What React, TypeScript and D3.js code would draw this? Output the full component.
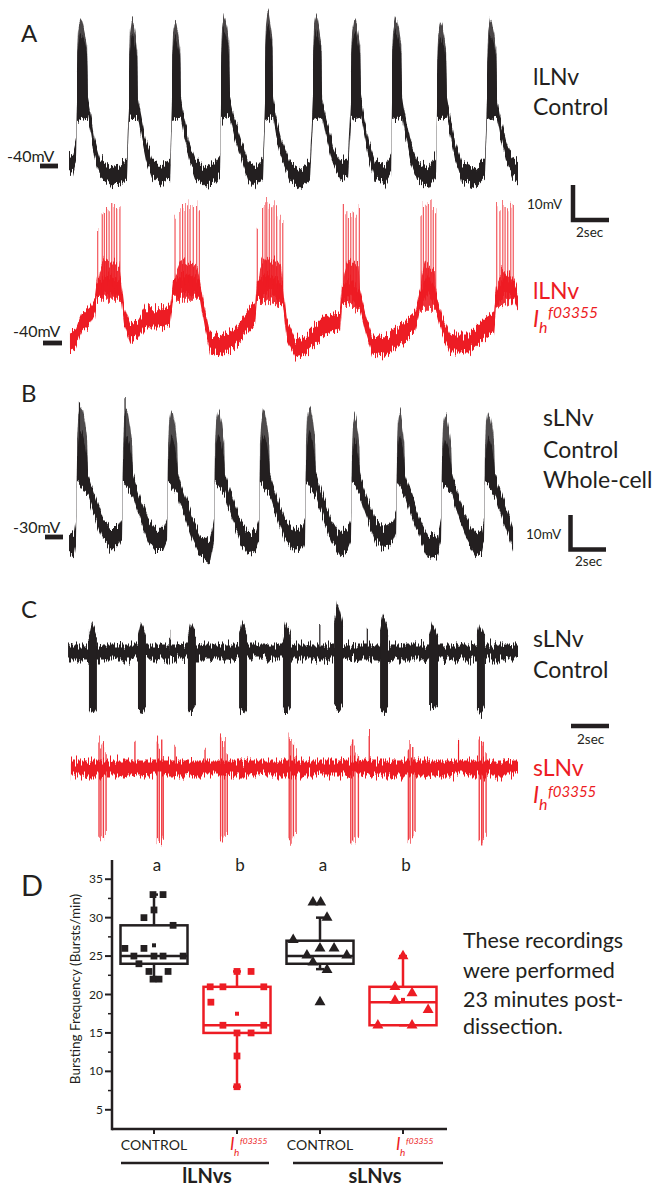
import React from 'react';
import * as d3 from 'd3';

type P = [number, number];
type Burst = [number, number, number];

// ---------------- Panel A: lLNv Control (time s, membrane potential mV) ----------------
const A_CTRL_LINE: P[] = [
  [0, -39.7], [0.21, -39.2], [0.37, -35.7], [0.42, -24.9], [0.68, -22.2], [1.0, -24.3], [1.16, -28.9], [1.37, -35.7], [1.63, -40.5], [2.16, -42.7], [2.68, -42.2], [3.05, -40.5],
  [3.16, -24.9], [3.37, -22.2], [3.63, -24.3], [3.79, -28.9], [4.05, -35.7], [4.37, -40.5], [4.79, -42.7], [5.32, -41.1],
  [5.42, -24.9], [5.63, -22.2], [5.89, -24.3], [6.05, -28.9], [6.32, -35.7], [6.63, -40.5], [7.16, -43.2], [7.68, -41.6], [7.95, -39.7],
  [8.0, -24.9], [8.21, -21.6], [8.47, -24.3], [8.68, -28.9], [9.0, -34.3], [9.42, -41.1], [9.79, -43.2], [10.21, -40.5],
  [10.32, -24.9], [10.47, -21.6], [10.74, -24.3], [10.89, -28.9], [11.21, -35.7], [11.63, -41.6], [12.16, -43.2], [12.68, -41.6],
  [12.84, -24.9], [13.05, -21.6], [13.32, -24.3], [13.53, -29.7], [13.89, -37.0], [14.26, -41.1], [14.68, -40.5],
  [14.84, -24.9], [15.05, -21.6], [15.37, -24.3], [15.53, -28.9], [15.79, -35.7], [16.11, -41.1], [16.63, -42.4], [16.95, -39.7],
  [17.0, -24.9], [17.21, -21.6], [17.53, -24.3], [17.68, -28.9], [17.95, -35.7], [18.32, -41.1], [18.89, -42.7], [19.32, -39.7],
  [19.37, -24.9], [19.58, -21.6], [19.89, -24.3], [20.05, -28.9], [20.32, -35.7], [20.68, -41.6], [21.37, -43.2], [21.89, -40.5],
  [22.0, -24.9], [22.21, -21.6], [22.53, -24.3], [22.68, -28.9], [23.0, -35.7], [23.32, -40.5], [23.63, -41.6],
];
// [burst onset s, burst offset s, spike top mV]
const A_CTRL_BURSTS: Burst[] = [
  [0.42, 1.0, 0.0], [3.16, 3.63, -0.5], [5.42, 5.89, -1.1], [8.0, 8.47, 0.8], [10.32, 10.74, 2.2],
  [12.84, 13.32, 0.5], [14.84, 15.37, 0.0], [17.0, 17.53, 0.5], [19.37, 19.89, -1.1], [22.0, 22.53, -0.5],
];

// ---------------- Panel A: lLNv Ih f03355 ----------------
const A_IH_LINE: P[] = [
  [0.05, -39.2], [0.37, -38.6], [0.68, -34.3], [1.11, -32.4], [1.37, -29.7], [1.47, -25.7],
  [2.11, -24.3], [2.74, -25.7], [2.89, -32.4], [3.21, -37.3], [3.63, -36.5], [4.0, -33.2], [4.79, -33.2], [5.32, -32.4], [5.47, -25.7],
  [6.16, -23.8], [6.89, -25.7], [7.16, -33.8], [7.42, -40.0], [7.95, -40.5], [8.74, -38.4], [9.53, -33.2], [9.79, -32.4], [9.89, -25.7],
  [10.58, -23.8], [11.26, -27.0], [11.47, -36.5], [11.89, -41.4], [12.42, -40.5], [12.95, -37.8], [13.47, -35.1], [14.26, -34.3], [14.37, -27.0],
  [14.84, -25.1], [15.32, -28.4], [15.63, -35.1], [15.95, -40.5], [16.63, -41.1], [17.42, -37.8], [18.21, -34.3], [18.47, -28.4],
  [18.89, -24.3], [19.32, -28.4], [19.63, -35.1], [20.05, -40.0], [21.1, -40.0], [21.89, -35.9], [22.37, -34.3], [22.47, -28.4],
  [22.95, -24.3], [23.42, -25.7], [23.63, -28.4],
];
// [onset, offset, top of the dense part mV]
const A_IH_BURSTS: Burst[] = [
  [1.47, 2.74, -17.0], [5.47, 6.89, -17.6], [9.89, 11.26, -17.0], [14.37, 15.32, -17.6], [18.47, 19.32, -18.1], [22.47, 23.42, -20.3],
];
// [spike time s, spike peak mV]
const A_IH_SPIKES: P[] = [
  [1.51, -9.2], [1.75, -4.1], [1.86, -4.6], [1.98, -3.5], [2.11, -4.1], [2.25, -2.7], [2.38, -2.7], [2.51, -3.5], [2.68, -2.2],
  [5.58, -5.9], [5.84, -4.1], [5.98, -3.5], [6.11, -2.7], [6.25, -2.2], [6.37, -3.5], [6.54, -2.7], [6.72, -2.2], [6.86, -4.1],
  [9.91, -8.6], [10.19, -3.5], [10.32, -2.2], [10.41, -0.8], [10.54, -3.2], [10.67, -4.1], [10.79, -2.2], [10.93, -4.1], [11.11, -5.9], [11.25, -7.3],
  [14.44, -2.7], [14.58, -4.9], [14.7, -4.6], [14.83, -5.4], [14.96, -4.9], [15.11, -5.9], [15.28, -2.7],
  [18.53, -4.1], [18.65, -2.7], [18.79, -3.2], [18.91, -2.7], [19.05, -1.4], [19.17, -3.5], [19.3, -4.1],
  [22.51, -2.2], [22.68, -4.1], [22.83, -2.7], [22.95, -2.7], [23.09, -4.1], [23.25, -3.2], [23.38, -2.7],
];

// ---------------- Panel B: sLNv Control whole-cell ----------------
const B_LINE: P[] = [
  [0, -31.6], [0.26, -32.2], [0.37, -28.1], [0.42, -11.9], [0.68, -12.4], [1.0, -15.9], [1.16, -18.6], [1.42, -22.7], [1.79, -28.1], [2.16, -30.3], [2.58, -30.3], [2.79, -28.1],
  [2.84, -11.9], [3.11, -12.4], [3.37, -15.9], [3.53, -18.6], [3.79, -22.7], [4.16, -28.1], [4.53, -30.8], [4.95, -30.8], [5.16, -28.1],
  [5.21, -11.9], [5.47, -12.4], [5.74, -15.9], [5.89, -18.6], [6.16, -22.7], [6.53, -28.1], [6.89, -32.2], [7.42, -34.1], [7.63, -28.1],
  [7.68, -11.9], [7.95, -12.4], [8.21, -15.9], [8.37, -18.6], [8.63, -22.7], [9.0, -28.1], [9.42, -31.4], [9.84, -30.8], [10.0, -28.1],
  [10.05, -11.9], [10.32, -12.4], [10.58, -15.9], [10.74, -18.6], [11.0, -22.7], [11.37, -28.1], [11.79, -30.8], [12.26, -30.3], [12.42, -28.1],
  [12.47, -11.9], [12.74, -11.9], [13.0, -15.9], [13.16, -18.6], [13.42, -22.7], [13.79, -28.1], [14.26, -32.2], [14.68, -30.3], [14.84, -28.1],
  [14.89, -11.9], [15.11, -12.4], [15.32, -15.9], [15.47, -18.6], [15.74, -22.7], [16.11, -28.1], [16.53, -30.3], [17.05, -28.9], [17.21, -26.8],
  [17.26, -11.9], [17.47, -12.4], [17.68, -15.9], [17.84, -18.6], [18.11, -22.7], [18.47, -28.1], [18.89, -32.7], [19.42, -32.2], [19.58, -28.1],
  [19.63, -11.9], [19.89, -12.4], [20.16, -15.9], [20.32, -18.6], [20.58, -22.7], [20.95, -28.1], [21.37, -32.2], [21.74, -30.8], [21.84, -28.1],
  [21.89, -11.9], [22.16, -12.4], [22.42, -15.9], [22.58, -18.6], [22.84, -22.7], [23.21, -28.1], [23.37, -30.8],
];
const B_BURSTS: Burst[] = [
  [0.42, 1.0, 5.7], [2.84, 3.37, 4.3], [5.21, 5.74, 4.3], [7.68, 8.21, 4.9], [10.05, 10.58, 4.9],
  [12.47, 13.0, 5.5], [14.89, 15.32, 3.5], [17.26, 17.68, 4.3], [19.63, 20.16, 3.5], [21.89, 22.42, 4.3],
];
const B_TALL_SPIKES: P[] = [[2.95, 7.8], [0.55, 6.4]];

// ---------------- Panel C: extracellular sLNv (time s, relative amplitude) ----------------
const C_CTRL_SPAN: [number, number] = [-0.05, 23.63];
// [onset, offset, downward peak, upward peak]
const C_CTRL_BURSTS: [number, number, number, number][] = [
  [1.05, 1.47, -16.5, 7.8], [3.63, 4.05, -16.5, 8.1], [6.26, 6.68, -16.5, 7.8], [8.95, 9.37, -16.5, 8.6], [11.26, 11.68, -16.5, 7.8],
  [13.95, 14.42, -15.7, 13.5], [16.37, 16.79, -16.5, 9.7], [18.95, 19.42, -15.1, 7.8], [21.47, 21.89, -16.5, 7.8],
];
const C_CTRL_NOISE_SPIKES: P[] = [[13.2, 7.3], [15.7, 6.0], [5.3, 5.2]];
const C_IH_SPAN: [number, number] = [0.1, 23.63];
// [spike time, downward peak, upward peak]
const C_IH_SPIKES: [number, number, number][] = [
  [1.58, -18.6, 8.0], [1.68, -19.5, 5.0], [1.81, -18.9, 7.0], [1.95, -17.6, 4.0],
  [4.65, -19.5, 8.5], [4.75, -20.0, 6.0], [4.88, -19.5, 8.0], [4.96, -18.6, 3.0],
  [7.98, -19.3, 8.0], [8.09, -19.3, 6.5], [8.21, -18.6, 7.5], [8.33, -17.6, 4.0],
  [11.59, -19.5, 8.5], [11.68, -19.9, 7.0], [11.81, -19.0, 6.0], [11.95, -17.6, 4.0],
  [14.83, -20.4, 6.0], [14.93, -19.9, 8.0], [15.05, -19.5, 5.0], [15.23, -18.6, 3.5],
  [17.86, -19.5, 5.0], [17.95, -19.9, 7.6], [18.09, -19.0, 6.5], [18.21, -17.6, 3.0],
  [21.59, -19.5, 8.5], [21.72, -20.4, 7.0], [21.8, -19.9, 6.0], [21.95, -18.6, 4.0],
];
const C_IH_NOISE_SPIKES: P[] = [[3.47, 6.8], [5.58, 6.0], [7.16, 6.3], [15.8, 8.9], [20.5, 7.6]];

// ---------------- Panel D: bursting frequency ----------------
const GROUP_KEYS = ['lLNv-control', 'lLNv-ih', 'sLNv-control', 'sLNv-ih'];
const GROUP_LETTERS = ['a', 'b', 'a', 'b'];
const BOX_MIN = [22, 8, 23.3, 16];
const BOX_Q1 = [24, 15, 24, 16];
const BOX_MED = [25, 16, 25, 19];
const BOX_Q3 = [29, 21, 27, 21];
const BOX_MAX = [33, 23, 30, 25];
const GROUP_MEAN = [26.4, 17.5, NaN, 19.3];
// [value, horizontal jitter as fraction of box half-width]
const PTS_LLNV_CTRL: P[] = [
  [33, -0.03], [33, 0.27], [31, 0], [30, -0.3], [29, 0.57], [26, -0.87], [26, -0.3], [25, -0.6], [25, 0], [25, 0.27], [25, 0.87],
  [24, -0.45], [23, -0.15], [23, 0.42], [22, -0.03], [22, 0.15],
];
const PTS_LLNV_IH: P[] = [
  [23, 0], [23, 0.42], [21, -0.8], [21, -0.42], [21, 0.8], [19, -0.78], [16, -0.42], [16, 0.8], [15, 0], [15, 0.42], [12, 0], [8, 0],
];
const PTS_SLNV_CTRL: P[] = [
  [32, -0.21], [32, 0.02], [30, 0.21], [27.1, -0.8], [26, 0], [26, 0.42], [25.1, -0.39], [25.1, 0.8], [24.2, -0.21], [23.2, 0.21], [19, 0],
];
const PTS_SLNV_IH: P[] = [
  [25, 0], [21, -0.24], [20.2, 0.27], [19.2, -0.24], [18, 0.75], [16, -0.75], [16, 0.27],
];
const GROUP_POINTS = [PTS_LLNV_CTRL, PTS_LLNV_IH, PTS_SLNV_CTRL, PTS_SLNV_IH];
const Y_TICKS = [5, 10, 15, 20, 25, 30, 35];
const Y_MINOR = [7.5, 12.5, 17.5, 22.5, 27.5, 32.5];

const W = 657;
const H = 1186;
const BLACK = '#231f20';
const RED = '#ed1c24';
const FONT = 'Lato, "Open Sans", sans-serif';

type Sc = d3.ScaleLinear<number, number>;

function interp(line: P[], t: number): number {
  const i = d3.bisector((d: P) => d[0]).left(line, t);
  if (i <= 0) return line[0][1];
  if (i >= line.length) return line[line.length - 1][1];
  const a = line[i - 1];
  const b = line[i];
  const f = (t - a[0]) / (b[0] - a[0] || 1);
  return a[1] + f * (b[1] - a[1]);
}

function bandPath(line: P[], x: Sc, y: Sc, hw: number): string {
  return (
    d3
      .area<P>()
      .x((d) => x(d[0]))
      .y0((d) => y(d[1] - hw))
      .y1((d) => y(d[1] + hw))(line) || ''
  );
}

function polyPath(pts: P[], x: Sc, y: Sc): string {
  return (d3.line<P>().x((p) => x(p[0])).y((p) => y(p[1]))(pts) || '') + 'Z';
}

// burst block: full spiky envelope (cut = 0) or its dense core (cut > 0)
function blockPath(line: P[], b: Burst, x: Sc, y: Sc, hw: number, drop: number, cut: number): string {
  const [on, off, top0] = b;
  const top = top0 - cut;
  const d = off - on;
  const pts: P[] = [
    [on, interp(line, on) - hw],
    [on, top - 10],
    [on + 0.12 * d, top - 3],
    [on + 0.3 * d, top],
    [on + 0.5 * d, top - 1],
    [on + 0.72 * d, top - drop * 0.5],
    [off - 0.08 * d, top - drop],
    [off, interp(line, off) + hw],
    [off, interp(line, off) - hw],
  ];
  return polyPath(pts, x, y);
}

export default function App() {
  const xT = d3.scaleLinear().domain([0, 23.63]).range([69, 518]);
  const yA = d3.scaleLinear().domain([-40, -30]).range([166, 129]);
  const yAi = d3.scaleLinear().domain([-40, -30]).range([343, 306]);
  const yB = d3.scaleLinear().domain([-30, -20]).range([537, 500]);
  const yCc = d3.scaleLinear().domain([0, 10]).range([652, 615]);
  const yCi = d3.scaleLinear().domain([0, 10]).range([768, 731]);

  const yD = d3.scaleLinear().domain([2.5, 37.5]).range([1129, 860]);
  const xD = d3.scalePoint<string>().domain(GROUP_KEYS).range([154, 403]);
  const BOX_HALF = 33.5;
  const groupColor = [BLACK, RED, BLACK, RED];
  const square = d3.symbol().type(d3.symbolSquare).size(46)() || '';
  const smallSquare = d3.symbol().type(d3.symbolSquare).size(16)() || '';
  const triangle = d3.symbol().type(d3.symbolTriangle).size(52)() || '';

  const bar10 = yA(-40) - yA(-30);
  const bar2s = xT(2) - xT(0);

  const txt = (x: number, y: number, s: string, size: number, extra: any = {}) => (
    <text x={x} y={y} fontSize={size} fontFamily={FONT} fill={BLACK} {...extra}>
      {s}
    </text>
  );

  return (
    <svg width={W} height={H} style={{ position: 'absolute', left: 0, top: 0, background: '#fff' }}>
      <defs>
        <filter id="rec" filterUnits="userSpaceOnUse" x={0} y={0} width={W} height={900} colorInterpolationFilters="sRGB">
          <feTurbulence type="fractalNoise" baseFrequency="0.85 0.025" numOctaves={2} seed={7} result="t" />
          <feColorMatrix in="t" type="matrix" values="0 0 0 0 0.5  0 1 0 0 0  0 0 0 0 0  0 0 0 0 1" result="m" />
          <feDisplacementMap in="SourceGraphic" in2="m" scale={20} xChannelSelector="R" yChannelSelector="G" />
        </filter>
      </defs>
      <rect x={0} y={0} width={W} height={H} fill="#fff" />

      {/* Panel letters */}
      {txt(21, 42, 'A', 24)}
      {txt(21, 402, 'B', 24)}
      {txt(21, 618, 'C', 24)}
      {txt(21, 896, 'D', 29)}

      <g filter="url(#rec)">
        {/* A control */}
        <path d={bandPath(A_CTRL_LINE, xT, yA, 2.6)} fill={BLACK} />
        {A_CTRL_BURSTS.map((b, i) => (
          <g key={'ab' + i}>
            <path d={blockPath(A_CTRL_LINE, b, xT, yA, 2.6, 8, 0)} fill={BLACK} fillOpacity={0.82} />
            <path d={blockPath(A_CTRL_LINE, b, xT, yA, 2.6, 6, 4)} fill={BLACK} />
          </g>
        ))}

        {/* A Ih */}
        <path d={bandPath(A_IH_LINE, xT, yAi, 2.6)} fill={RED} />
        {A_IH_BURSTS.map((b, i) => (
          <path key={'ib' + i} d={blockPath(A_IH_LINE, b, xT, yAi, 2.6, 2, 0)} fill={RED} fillOpacity={0.9} />
        ))}
        {A_IH_SPIKES.map((s, i) => (
          <line
            key={'is' + i}
            x1={xT(s[0])}
            x2={xT(s[0])}
            y1={yAi(interp(A_IH_LINE, s[0]))}
            y2={yAi(s[1])}
            stroke={RED}
            strokeOpacity={0.75}
            strokeWidth={1.2}
          />
        ))}

        {/* B */}
        <path d={bandPath(B_LINE, xT, yB, 3.0)} fill={BLACK} />
        {B_BURSTS.map((b, i) => (
          <g key={'bb' + i}>
            <path d={blockPath(B_LINE, b, xT, yB, 3.0, 9, 0)} fill={BLACK} fillOpacity={0.8} />
            <path d={blockPath(B_LINE, b, xT, yB, 3.0, 7, 7)} fill={BLACK} />
          </g>
        ))}
        {B_TALL_SPIKES.map((s, i) => (
          <line key={'bt' + i} x1={xT(s[0])} x2={xT(s[0])} y1={yB(-12)} y2={yB(s[1])} stroke={BLACK} strokeWidth={1.2} />
        ))}

        {/* C control */}
        <path
          d={bandPath([[C_CTRL_SPAN[0], 0], [C_CTRL_SPAN[1], 0]], xT, yCc, 2.0)}
          fill={BLACK}
        />
        {C_CTRL_BURSTS.map((b, i) => {
          const [on, off, lo, hi] = b;
          const d = off - on;
          const pts: P[] = [
            [on, hi * 0.6],
            [on + 0.35 * d, hi],
            [on + 0.7 * d, hi * 0.8],
            [off, hi * 0.55],
            [off, lo + 1.5],
            [on + 0.6 * d, lo],
            [on + 0.15 * d, lo + 0.3],
            [on, lo + 1],
          ];
          return <path key={'cb' + i} d={polyPath(pts, xT, yCc)} fill={BLACK} />;
        })}
        {C_CTRL_NOISE_SPIKES.map((s, i) => (
          <line key={'cn' + i} x1={xT(s[0])} x2={xT(s[0])} y1={yCc(0)} y2={yCc(s[1])} stroke={BLACK} strokeWidth={1.2} />
        ))}

        {/* C Ih */}
        <path
          d={bandPath([[C_IH_SPAN[0], 0], [C_IH_SPAN[1], 0]], xT, yCi, 2.0)}
          fill={RED}
        />
        {C_IH_SPIKES.map((s, i) => (
          <line
            key={'ci' + i}
            x1={xT(s[0])}
            x2={xT(s[0])}
            y1={yCi(s[1])}
            y2={yCi(s[2])}
            stroke={RED}
            strokeOpacity={0.85}
            strokeWidth={1.4}
          />
        ))}
        {C_IH_NOISE_SPIKES.map((s, i) => (
          <line key={'cin' + i} x1={xT(s[0])} x2={xT(s[0])} y1={yCi(0)} y2={yCi(s[1])} stroke={RED} strokeWidth={1.2} />
        ))}
      </g>

      {/* Level markers */}
      {txt(7, 162, '-40mV', 16)}
      <rect x={40} y={yA(-40) - 2.4} width={18} height={4.8} fill={BLACK} />
      {txt(13, 337, '-40mV', 16)}
      <rect x={43} y={yAi(-40) - 2.4} width={19} height={4.8} fill={BLACK} />
      {txt(13, 533, '-30mV', 16)}
      <rect x={45} y={yB(-30) - 2.4} width={18} height={4.8} fill={BLACK} />

      {/* Scale bars */}
      <path d={`M573,${222 - bar10} V220 H${571 + bar2s}`} fill="none" stroke={BLACK} strokeWidth={4.5} />
      {txt(527, 209, '10mV', 13.5)}
      {txt(576, 237, '2sec', 13.5)}
      <path d={`M570.5,${552 - bar10} V549.5 H${568 + bar2s}`} fill="none" stroke={BLACK} strokeWidth={4.5} />
      {txt(526, 539, '10mV', 13.5)}
      {txt(575, 566, '2sec', 13.5)}
      <line x1={571} x2={571 + bar2s} y1={726} y2={726} stroke={BLACK} strokeWidth={4.5} />
      {txt(577, 744, '2sec', 13.5)}

      {/* Trace labels */}
      {txt(533, 85, 'lLNv', 23)}
      {txt(533, 115, 'Control', 23)}
      {txt(533, 299, 'lLNv', 23, { fill: RED })}
      {txt(533, 327, 'I', 23, { fill: RED, fontStyle: 'italic' })}
      {txt(539, 333, 'h', 16, { fill: RED, fontStyle: 'italic' })}
      {txt(548, 318, 'f03355', 15.5, { fill: RED, fontStyle: 'italic' })}
      {txt(543, 426, 'sLNv', 23)}
      {txt(543, 458, 'Control', 23)}
      {txt(543, 488, 'Whole-cell', 23)}
      {txt(533, 647, 'sLNv', 23)}
      {txt(533, 678, 'Control', 23)}
      {txt(533, 776, 'sLNv', 23, { fill: RED })}
      {txt(533, 803, 'I', 23, { fill: RED, fontStyle: 'italic' })}
      {txt(539, 810, 'h', 16, { fill: RED, fontStyle: 'italic' })}
      {txt(548, 797, 'f03355', 15, { fill: RED, fontStyle: 'italic' })}

      {/* Panel D axes */}
      <line x1={112} x2={112} y1={860} y2={yD(2.5) + 1.2} stroke={BLACK} strokeWidth={2.5} />
      <line x1={112} x2={447} y1={yD(2.5)} y2={yD(2.5)} stroke={BLACK} strokeWidth={2.5} />
      {Y_TICKS.map((v) => (
        <g key={'yt' + v}>
          <line x1={105} x2={112} y1={yD(v)} y2={yD(v)} stroke={BLACK} strokeWidth={2} />
          {txt(103, yD(v) + 4, String(v), 12, { textAnchor: 'end' })}
        </g>
      ))}
      {Y_MINOR.map((v) => (
        <line key={'ym' + v} x1={108} x2={112} y1={yD(v)} y2={yD(v)} stroke={BLACK} strokeWidth={1.5} />
      ))}
      {GROUP_KEYS.map((k) => (
        <line key={'xt' + k} x1={xD(k)!} x2={xD(k)!} y1={yD(2.5)} y2={yD(2.5) + 5} stroke={BLACK} strokeWidth={2} />
      ))}
      <text
        transform={`translate(80,989) rotate(-90)`}
        textAnchor="middle"
        fontSize={13.5}
        fontFamily={FONT}
        fill={BLACK}
      >
        Bursting Frequency (Bursts/min)
      </text>

      {/* Boxes */}
      {GROUP_KEYS.map((k, i) => {
        const cx = xD(k)!;
        const c = groupColor[i];
        return (
          <g key={'box' + k} stroke={c} strokeWidth={2.5} fill="none">
            <line x1={cx} x2={cx} y1={yD(BOX_Q3[i])} y2={yD(BOX_MAX[i])} />
            <line x1={cx} x2={cx} y1={yD(BOX_Q1[i])} y2={yD(BOX_MIN[i])} />
            <line x1={cx - 4} x2={cx + 4} y1={yD(BOX_MAX[i])} y2={yD(BOX_MAX[i])} />
            <line x1={cx - 4} x2={cx + 4} y1={yD(BOX_MIN[i])} y2={yD(BOX_MIN[i])} />
            <rect x={cx - BOX_HALF} y={yD(BOX_Q3[i])} width={BOX_HALF * 2} height={yD(BOX_Q1[i]) - yD(BOX_Q3[i])} />
            <line x1={cx - BOX_HALF} x2={cx + BOX_HALF} y1={yD(BOX_MED[i])} y2={yD(BOX_MED[i])} />
          </g>
        );
      })}
      {GROUP_KEYS.map((k, i) => {
        const cx = xD(k)!;
        const c = groupColor[i];
        const sym = i < 2 ? square : triangle;
        return (
          <g key={'pts' + k} fill={c}>
            {GROUP_POINTS[i].map((p, j) => (
              <path key={j} d={sym} transform={`translate(${cx + p[1] * BOX_HALF},${yD(p[0])})`} />
            ))}
            {!isNaN(GROUP_MEAN[i]) && (
              <path d={smallSquare} transform={`translate(${cx},${yD(GROUP_MEAN[i])})`} />
            )}
          </g>
        );
      })}
      {GROUP_KEYS.map((k, i) => (
        <g key={'lt' + k}>{txt(xD(k)! + 3, 871, GROUP_LETTERS[i], 17, { textAnchor: 'middle' })}</g>
      ))}

      {/* Category labels */}
      {txt(xD(GROUP_KEYS[0])!, 1150, 'CONTROL', 14, { textAnchor: 'middle' })}
      {txt(xD(GROUP_KEYS[2])!, 1150, 'CONTROL', 14, { textAnchor: 'middle' })}
      {[1, 3].map((i) => {
        const cx = xD(GROUP_KEYS[i])!;
        return (
          <g key={'il' + i} fill={RED} fontFamily={FONT} fontStyle="italic">
            <text x={cx - 7} y={1150} fontSize={17}>I</text>
            <text x={cx - 3} y={1156} fontSize={10}>h</text>
            <text x={cx + 3} y={1144} fontSize={8.5}>f03355</text>
          </g>
        );
      })}
      <line x1={121} x2={269} y1={1163} y2={1163} stroke={BLACK} strokeWidth={2.5} />
      <line x1={293} x2={443} y1={1163} y2={1163} stroke={BLACK} strokeWidth={2.5} />
      {txt(207, 1183, 'lLNvs', 20, { textAnchor: 'middle', fontWeight: 700 })}
      {txt(375, 1183, 'sLNvs', 20, { textAnchor: 'middle', fontWeight: 700 })}

      {/* Note */}
      {txt(463, 948, 'These recordings', 21.5)}
      {txt(463, 978, 'were performed', 21.5)}
      {txt(463, 1007, '23 minutes post-', 21.5)}
      {txt(463, 1034, 'dissection.', 21.5)}
    </svg>
  );
}
